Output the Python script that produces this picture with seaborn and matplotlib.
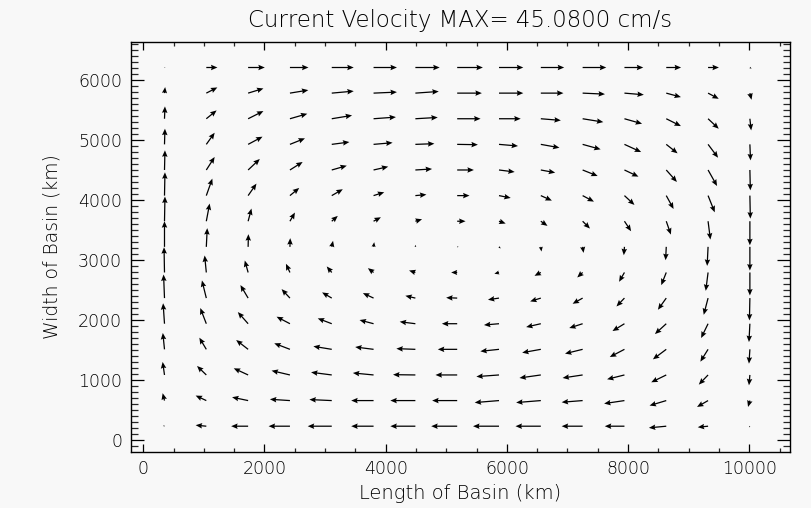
import numpy as np
import matplotlib
matplotlib.use("Agg")
import matplotlib.pyplot as plt
import seaborn as sns
from matplotlib.ticker import MultipleLocator

# grid positions (km)
x_km = [350, 1040, 1730, 2420, 3110, 3800, 4490, 5180, 5870, 6560, 7250, 7940, 8630, 9320, 10010]
y_km = [230, 657, 1084, 1511, 1938, 2365, 2792, 3219, 3646, 4073, 4500, 4927, 5354, 5781, 6208]

# eastward velocity (cm/s), rows from bottom (south) to top (north)
u_rows = [
    [-1.5, -11.5, -18.3, -23.0, -25.9, -24.1, -27.0, -28.0, -28.0, -27.3, -22.6, -21.2, -18.7, -11.1, -1.0],
    [-2.0, -11.5, -17.3, -21.6, -24.1, -24.1, -27.0, -27.0, -26.2, -26.6, -22.6, -21.9, -18.0, -11.9, -2.0],
    [-2.0, -10.0, -15.5, -19.8, -22.3, -22.3, -24.1, -23.4, -24.4, -23.0, -21.6, -18.7, -16.2, -10.0, -1.0],
    [-1.8, -7.5, -12.9, -16.9, -19.8, -19.8, -20.5, -20.9, -20.1, -20.1, -19.0, -15.8, -14.4, -8.3, -1.0],
    [-1.5, -6.5, -11.1, -14.4, -15.1, -15.1, -16.9, -16.5, -16.2, -15.8, -14.4, -12.9, -12.2, -7.5, -1.0],
    [-1.0, -4.7, -8.3, -9.0, -10.4, -11.5, -10.8, -11.9, -11.9, -11.5, -10.8, -8.6, -9.0, -4.7, -0.5],
    [-0.5, -1.8, -3.6, -4.3, -5.4, -6.1, -6.8, -6.5, -5.0, -6.8, -5.8, -5.8, -5.4, -2.5, 0.0],
    [0.0, 1.0, 0.3, 0.3, 1.4, 0.7, 0.3, 1.5, 1.8, 0.7, 1.0, -0.7, -0.7, -1.0, 0.0],
    [0.5, 3.6, 3.6, 5.4, 6.5, 7.9, 7.2, 9.0, 7.2, 7.2, 7.9, 7.2, 5.0, 2.5, 0.0],
    [0.5, 6.5, 9.0, 10.0, 11.9, 11.5, 11.9, 13.3, 12.6, 11.9, 12.2, 10.8, 7.9, 7.2, 0.5],
    [0.5, 9.0, 12.6, 13.7, 16.2, 15.8, 18.0, 18.0, 16.9, 15.5, 16.2, 15.1, 11.5, 9.7, 0.5],
    [0.5, 9.0, 15.5, 16.2, 19.0, 20.5, 20.5, 22.3, 20.5, 20.1, 19.4, 18.0, 12.2, 10.8, 0.7],
    [0.5, 11.1, 16.5, 18.7, 21.9, 24.1, 24.1, 25.2, 23.4, 21.6, 22.3, 19.0, 15.8, 11.5, 1.4],
    [0.7, 11.9, 16.5, 19.8, 23.7, 25.2, 25.2, 26.6, 26.2, 24.4, 24.1, 20.9, 15.8, 11.5, 1.8],
    [1.0, 12.0, 18.0, 20.0, 23.7, 25.2, 26.2, 27.7, 26.2, 25.2, 25.5, 20.3, 16.0, 11.7, 1.8],
]

# northward velocity (cm/s), rows from bottom to top
v_rows = [
    [1.2, 1.8, 0.0, 0.0, 0.0, 0.0, 0.0, 0.0, 0.0, 0.0, 0.0, 0.0, -2.9, -1.8, -2.0],
    [13.0, 8.8, 5.9, 2.3, 1.8, 0.0, 0.0, 0.0, -3.5, -3.5, -2.9, -5.3, -8.8, -11.2, -11.2],
    [22.9, 15.8, 11.7, 7.6, 4.7, 3.5, 0.5, 0.0, -2.9, -5.3, -5.3, -7.6, -12.9, -17.0, -18.2],
    [28.8, 20.5, 16.4, 10.6, 5.3, 4.1, 1.2, 0.0, -3.5, -5.9, -7.6, -13.5, -17.6, -21.7, -25.2],
    [36.0, 27.6, 20.5, 12.3, 9.4, 6.5, 3.5, 0.0, -2.3, -5.9, -7.6, -12.9, -18.2, -25.2, -32.3],
    [41.5, 31.1, 22.9, 15.8, 10.0, 8.8, 4.1, 0.7, -2.9, -5.9, -10.0, -14.7, -20.5, -29.4, -39.3],
    [44.5, 29.9, 21.1, 15.3, 10.6, 7.6, 3.5, 0.0, -2.3, -5.9, -8.8, -16.4, -22.3, -32.3, -40.5],
    [45.08, 32.9, 22.3, 15.3, 10.6, 8.2, 3.5, 0.0, -2.9, -8.2, -10.6, -14.7, -23.5, -33.5, -41.7],
    [43.5, 31.1, 22.3, 15.3, 9.4, 7.0, 3.5, 0.0, -4.1, -8.2, -12.9, -17.6, -23.5, -32.3, -42.3],
    [41.0, 29.9, 21.1, 13.5, 11.2, 5.9, 1.8, 0.0, -4.1, -8.8, -10.6, -16.4, -23.5, -29.4, -40.5],
    [34.6, 22.9, 19.4, 14.1, 7.6, 5.9, 1.8, 0.0, -3.5, -4.7, -10.6, -11.7, -21.1, -28.2, -35.8],
    [27.6, 20.5, 13.5, 10.6, 4.1, 2.9, 1.2, -0.6, -2.9, -5.9, -8.8, -13.5, -15.8, -23.5, -28.2],
    [21.7, 14.7, 13.5, 8.8, 5.9, 2.9, 2.3, 0.0, 0.0, -2.9, -5.9, -8.8, -12.9, -17.6, -20.5],
    [10.6, 10.0, 8.2, 5.3, 3.5, 1.8, 2.9, 0.0, 0.0, 0.0, -1.8, -2.9, -7.0, -10.0, -11.7],
    [0.5, 0.0, 0.0, 0.0, 0.0, 0.0, 0.0, 0.0, 0.0, 0.0, 0.0, 0.0, 0.0, 0.0, -2.0],
]

vel_max = 45.08
title_text = "Current Velocity MAX= 45.0800 cm/s"
x_label = "Length of Basin (km)"
y_label = "Width of Basin (km)"
x_ticks = [0, 2000, 4000, 6000, 8000, 10000]
y_ticks = [0, 1000, 2000, 3000, 4000, 5000, 6000]

bg = "#f8f8f8"
sns.set_theme(style="ticks")
plt.rcParams['font.family'] = ['DejaVu Sans']

W, H = 812, 508
fig = plt.figure(figsize=(W / 100, H / 100), dpi=100, facecolor=bg)
L, R, T, B = 130.5, 790.0, 42.3, 451.7
ax = fig.add_axes([L / W, 1 - B / H, (R - L) / W, (B - T) / H])
ax.set_facecolor(bg)

X, Y = np.meshgrid(x_km, y_km)
U = np.array(u_rows)
V = np.array(v_rows)
x_step = x_km[1] - x_km[0]
y_step = y_km[1] - y_km[0]
ax.quiver(X, Y, U / vel_max * x_step, V / vel_max * y_step,
          angles='xy', scale_units='xy', scale=1, pivot='tail',
          color='black', width=0.0019, headwidth=4.4, headlength=5.2,
          headaxislength=4.6, minlength=0.5)

ax.set_xlim(-211, 10672)
ax.set_ylim(-195, 6628)
ax.set_xticks(x_ticks)
ax.set_yticks(y_ticks)
ax.xaxis.set_minor_locator(MultipleLocator(500))
ax.yaxis.set_minor_locator(MultipleLocator(100))
ax.tick_params(axis='x', which='major', direction='in', length=5.9, width=0.9,
               top=True, bottom=True, labelsize=12.5, pad=6, colors='black')
ax.tick_params(axis='x', which='minor', direction='in', length=3.0, width=0.9,
               top=True, bottom=True)
ax.tick_params(axis='y', which='major', direction='in', length=9.4, width=0.9,
               left=True, right=True, labelsize=12.5, pad=6, colors='black')
ax.tick_params(axis='y', which='minor', direction='in', length=4.8, width=0.9,
               left=True, right=True)
for lab in ax.get_xticklabels() + ax.get_yticklabels():
    lab.set_fontweight('light')
for s in ax.spines.values():
    s.set_color('black')
    s.set_linewidth(1.0)

ax.set_title(title_text, fontsize=16.5, pad=11, color='black', fontweight='light')
ax.set_xlabel(x_label, fontsize=14, labelpad=4, color='black', fontweight='light')
ax.set_ylabel(y_label, fontsize=13.5, labelpad=12, color='black', fontweight='light')

fig.savefig("out.png", dpi=100, facecolor=bg)
